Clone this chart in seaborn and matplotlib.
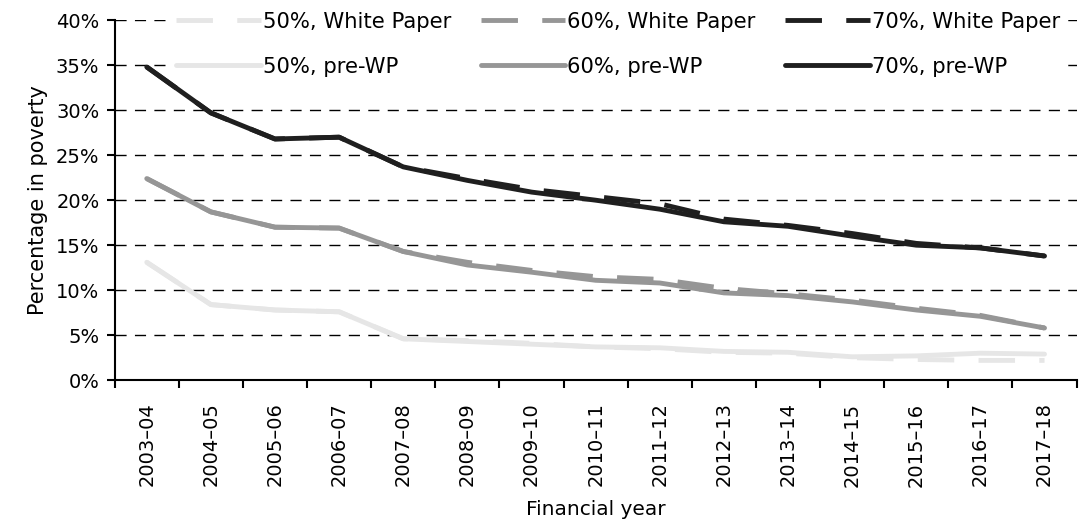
import seaborn as sns
import pandas as pd
import numpy as np
import matplotlib.pyplot as plt

years = ['2003–04', '2004–05', '2005–06', '2006–07', '2007–08', '2008–09', '2009–10',
         '2010–11', '2011–12', '2012–13', '2013–14', '2014–15', '2015–16', '2016–17', '2017–18']

# pre-White Paper series (percent)
pre50 = [13.1, 8.4, 7.8, 7.6, 4.6, 4.3, 4.0, 3.7, 3.6, 3.2, 3.1, 2.6, 2.7, 3.0, 2.9]
pre60 = [22.4, 18.7, 17.0, 16.9, 14.3, 12.8, 12.0, 11.1, 10.8, 9.7, 9.4, 8.7, 7.8, 7.1, 5.8]
pre70 = [34.8, 29.7, 26.8, 27.0, 23.7, 22.2, 20.9, 20.0, 19.0, 17.6, 17.1, 16.0, 15.0, 14.7, 13.8]

# White Paper series (percent)
wp50 = [13.1, 8.4, 7.8, 7.6, 4.6, 4.4, 4.1, 3.7, 3.5, 3.1, 3.0, 2.5, 2.3, 2.2, 2.2]
wp60 = [22.4, 18.7, 17.0, 16.9, 14.3, 13.1, 12.2, 11.5, 11.2, 10.2, 9.6, 8.9, 8.0, 7.2, 5.8]
wp70 = [34.8, 29.7, 26.8, 27.0, 23.7, 22.4, 21.2, 20.4, 19.6, 17.9, 17.2, 16.3, 15.2, 14.7, 13.8]

series = {
    '50%, White Paper': wp50, '50%, pre-WP': pre50,
    '60%, White Paper': wp60, '60%, pre-WP': pre60,
    '70%, White Paper': wp70, '70%, pre-WP': pre70,
}
colors = {'50': '#e6e6e6', '60': '#969696', '70': '#1f1f1f'}

rows = []
for name, vals in series.items():
    for i, v in enumerate(vals):
        rows.append({'pos': i, 'value': v, 'series': name})
df = pd.DataFrame(rows)

sns.set_style('ticks')
plt.rcParams['font.family'] = ['DejaVu Sans']
plt.rcParams['text.color'] = 'black'
plt.rcParams['axes.labelcolor'] = 'black'
plt.rcParams['xtick.color'] = 'black'
plt.rcParams['ytick.color'] = 'black'
plt.rcParams['axes.edgecolor'] = 'black'
fs = 14

fig, ax = plt.subplots(figsize=(10.82, 5.31), dpi=100)
fig.subplots_adjust(left=0.106, right=0.995, bottom=0.284, top=0.962)

lw = 3.5
palette = {n: colors[n[:2]] for n in series}
dashes = {n: ((7.5, 5) if 'White' in n else '') for n in series}
sns.lineplot(data=df, x='pos', y='value', hue='series', style='series',
             palette=palette, dashes=dashes, linewidth=lw, ax=ax,
             hue_order=list(series), style_order=list(series),
             legend=True, zorder=3)
for l in ax.get_lines():
    l.set_solid_capstyle('round')

ax.set_xlim(-0.5, len(years) - 0.5)
ax.set_ylim(0, 40)
ax.set_yticks(np.arange(0, 41, 5))
ax.set_yticklabels([f'{t}%' for t in range(0, 41, 5)], fontsize=fs)
ax.set_xticks(np.arange(len(years)))
ax.set_xticklabels(years, rotation=90, fontsize=fs)
ax.tick_params(axis='x', which='major', length=0, pad=16)
ax.set_xticks(np.arange(-0.5, len(years), 1), minor=True)
ax.tick_params(axis='x', which='minor', length=6, width=1.5, direction='out')
ax.tick_params(axis='y', length=6, width=1.5, direction='out', pad=5)

for t in range(5, 41, 5):
    ax.axhline(t, color='black', lw=1.0, ls=(0, (8, 6)), zorder=1)

ax.spines['top'].set_visible(False)
ax.spines['right'].set_visible(False)
ax.spines['left'].set_linewidth(1.5)
ax.spines['bottom'].set_linewidth(1.5)

ax.set_xlabel('Financial year', fontsize=fs + 0.5, labelpad=10)
ax.set_ylabel('Percentage in poverty', fontsize=fs + 1, labelpad=6)

handles, labels = ax.get_legend_handles_labels()
leg = ax.legend(handles, labels, ncol=3, loc='upper right', bbox_to_anchor=(0.998, 1.065),
                frameon=True, facecolor='white', edgecolor='none', framealpha=1,
                fontsize=fs + 1.2, handlelength=4.0, handletextpad=0.1, columnspacing=1.4,
                labelspacing=1.2, borderpad=0.2)
for h in leg.get_lines():
    h.set_linewidth(lw)

fig.savefig('out.png', dpi=100)
